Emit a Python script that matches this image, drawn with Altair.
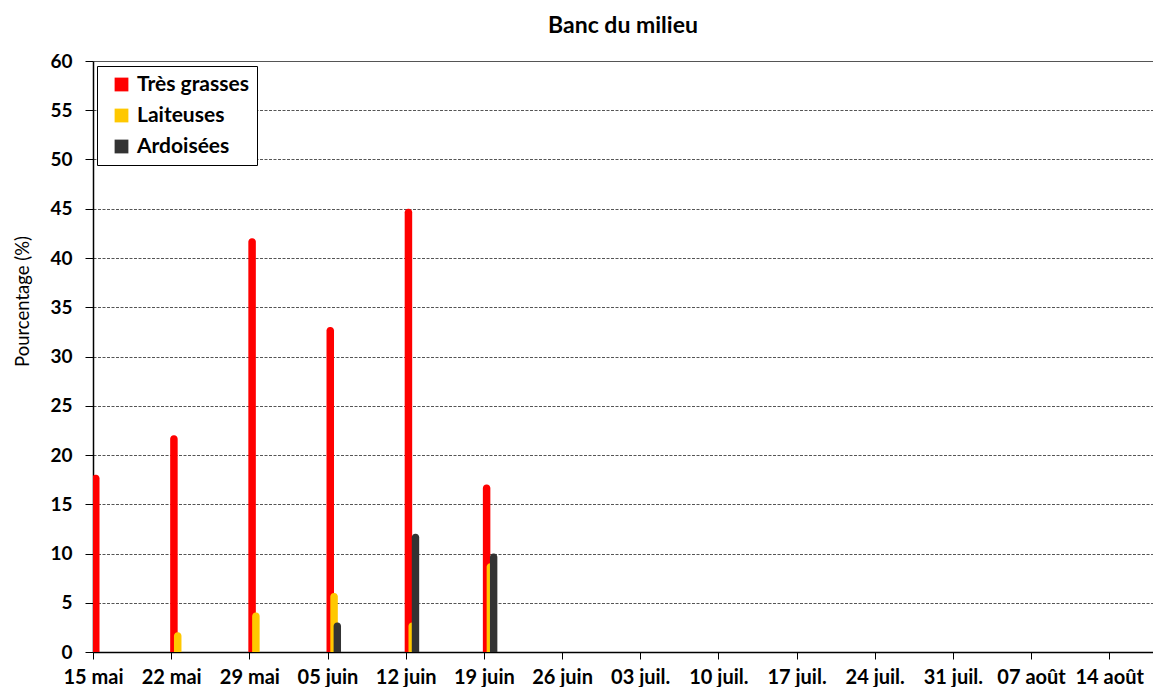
import altair as alt
import pandas as pd

week_labels = ["15 mai", "22 mai", "29 mai", "05 juin", "12 juin", "19 juin", "26 juin",
               "03 juil.", "10 juil.", "17 juil.", "24 juil.", "31 juil.", "07 août", "14 août"]
sample_weeks = ["15 mai", "22 mai", "29 mai", "05 juin", "12 juin", "19 juin"]
tres_grasses = [18, 22, 42, 33, 45, 17]
laiteuses = [0, 2, 4, 6, 3, 9]
ardoisees = [0, 0, 0, 3, 12, 10]
series_names = ["Très grasses", "Laiteuses", "Ardoisées"]
series_colors = ["#FF0000", "#FFC800", "#333333"]

rows = []
for name, vals in zip(series_names, [tres_grasses, laiteuses, ardoisees]):
    for w, v in zip(sample_weeks, vals):
        rows.append({"serie": name, "semaine": week_labels.index(w), "valeur": v})
df = pd.DataFrame(rows)

FONT = "Lato"
label_expr = "[" + ",".join("'" + l + "'" for l in week_labels) + "][datum.value]"

x_enc = alt.X("semaine:Q",
              scale=alt.Scale(domain=[0, 13.56], nice=False, zero=False, padding=0),
              axis=alt.Axis(values=list(range(len(week_labels))), labelExpr=label_expr,
                            title=None, grid=False, tickSize=7, tickColor="#000",
                            domainColor="#000", domainWidth=1.5, labelPadding=24,
                            labelBaseline="alphabetic",
                            labelFont=FONT, labelFontSize=20, labelFontWeight="bold",
                            labelColor="#000", labelOverlap=False, labelFlush=False))
y_enc = alt.Y("valeur:Q",
              scale=alt.Scale(domain=[0, 60], nice=False, padding=0),
              axis=alt.Axis(values=list(range(0, 61, 5)), title="Pourcentage (%)",
                            tickSize=8, tickColor="#000", domainColor="#000", domainWidth=1.5,
                            labelPadding=13, labelFont=FONT, labelFontSize=19,
                            labelFontWeight="bold", labelColor="#000",
                            grid=True, gridColor="#555", gridWidth=1,
                            gridDash={"condition": {"test": "datum.value == 60", "value": []},
                                      "value": [3, 1.5]},
                            titleFont=FONT, titleFontSize=18.5, titleFontWeight="normal",
                            titleColor="#000", titleX=-71, titleY=240, titleBaseline="middle"))
color_enc = alt.Color("serie:N",
                      scale=alt.Scale(domain=series_names, range=series_colors),
                      legend=alt.Legend(title=None, orient="none", legendX=4, legendY=5,
                                        direction="vertical", symbolType="square",
                                        symbolSize=190, symbolStrokeWidth=0,
                                        labelFont=FONT, labelFontSize=21,
                                        labelFontWeight="bold", labelColor="#000",
                                        strokeColor="#000", fillColor="#fff",
                                        padding=8, rowPadding=9, symbolOffset=6,
                                        labelOffset=5))

# horizontal placement of each series' bar around its week tick, in pixels (start, end)
offsets = [(-1.0, 6.5), (2.8, 10.3), (6.1, 13.5)]
layers = []
for name, (o1, o2) in zip(series_names, offsets):
    layers.append(
        alt.Chart(df)
        .transform_filter((alt.datum.serie == name) & (alt.datum.valeur > 0))
        .mark_bar(xOffset=o1, x2Offset=o2, cornerRadiusTopLeft=3.5,
                  cornerRadiusTopRight=3.5, clip=True)
        .encode(x=x_enc, x2=alt.X2("semaine:Q"), y=y_enc, y2=alt.datum(0), color=color_enc)
    )

chart = (
    alt.layer(*layers)
    .properties(
        width=1060, height=591,
        autosize=alt.AutoSizeParams(type="none"),
        padding={"left": 85, "top": 53, "right": 0, "bottom": 35},
        title=alt.TitleParams("Banc du milieu", font=FONT, fontSize=23, fontWeight="bold",
                              color="#000", anchor="middle", offset=14),
    )
    .configure_view(stroke=None)
)

chart.save("out.html", embed_options={"renderer": "svg", "actions": False})
